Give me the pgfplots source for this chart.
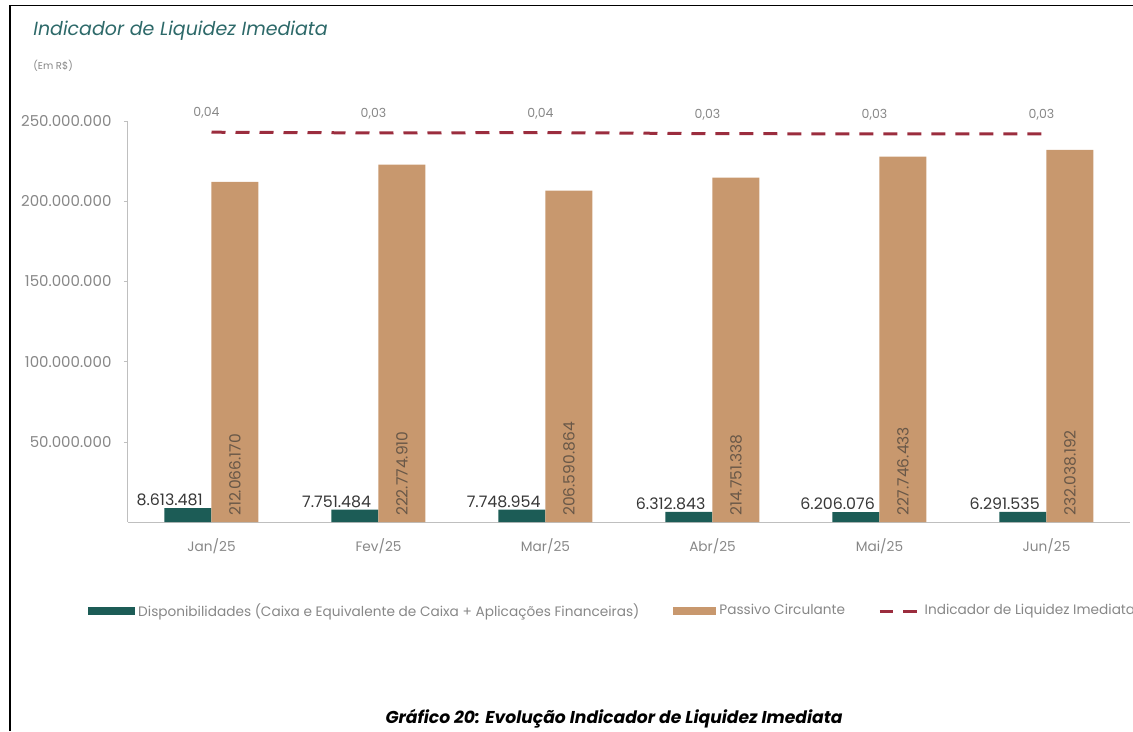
\documentclass[border=0pt]{standalone}
\usepackage{pgfplots}
\pgfplotsset{compat=1.18}
\usepackage{fontspec}
\setmainfont{Poppins}
\definecolor{teal1}{RGB}{28,92,86}
\definecolor{tan1}{RGB}{200,152,110}
\definecolor{line1}{RGB}{155,45,62}
\definecolor{gray1}{RGB}{135,135,135}
\definecolor{title1}{RGB}{45,105,105}
\definecolor{lbl}{RGB}{55,55,55}
\definecolor{lbltan}{RGB}{105,88,72}

\pgfplotstableread{
x disp passivo ind
0 8613481 212066170 0.0406
1 7751484 222774910 0.0348
2 7748954 206590864 0.0375
3 6312843 214751338 0.0294
4 6206076 227746433 0.0272
5 6291535 232038192 0.0271
}\data

\begin{document}
\begin{tikzpicture}[x=0.6pt,y=0.6pt]
\useasboundingbox (0,0) rectangle (1133,731);
\draw[black, line width=1.1pt] (10,0) -- (10,725.5) -- (1133,725.5);
\node[anchor=base west, text=title1, font=\fontsize{11.4}{14}\selectfont\itshape, inner sep=0pt] at (33,695) {Indicador de Liquidez Imediata};
\node[anchor=base west, text=gray1, font=\fontsize{6}{7}\selectfont, inner sep=0pt] at (33,661) {(Em R\$)};
\node[anchor=base, font=\fontsize{10.3}{12}\selectfont\bfseries\itshape, inner sep=0pt] at (614,8) {Gráfico 20: Evolução Indicador de Liquidez Imediata};

\begin{axis}[
  at={(76.8pt,125.4pt)}, anchor=south west, scale only axis,
  width=601.2pt, height=240.6pt,
  xmin=-0.5, xmax=5.5, ymin=0, ymax=250000000,
  ybar=0pt, bar width=28.2pt,
  xtick={0,...,5}, xticklabels={Jan/25,Fev/25,Mar/25,Abr/25,Mai/25,Jun/25},
  ytick={50000000,100000000,150000000,200000000,250000000},
  scaled y ticks=false,
  /pgf/number format/.cd, fixed, precision=0, 1000 sep={.}, assume math mode=true, /pgfplots/.cd,
  axis x line*=bottom, axis y line*=left,
  axis line style={draw=black!25, line width=0.6pt},
  x axis line style={-}, y axis line style={-},
  major x tick style={draw=none},
  major y tick style={draw=black!25},
  tick align=outside, major tick length=2.4pt,
  ticklabel style={text=gray1},
  xticklabel style={yshift=-4pt, font=\fontsize{8.2}{9}\selectfont},
  yticklabel style={xshift=-4pt, font=\fontsize{9}{10}\selectfont},
  legend style={at={(-0.045,-0.222)}, anchor=west, legend columns=3, draw=none, fill=none,
    font=\fontsize{8.2}{9}\selectfont, text=gray1,
    /tikz/every even column/.append style={column sep=18pt}},
  clip=false,
]
\addplot[fill=teal1, draw=none,
  legend image code/.code={\fill[teal1] (0pt,-2.4pt) rectangle (28pt,2.4pt);},
  nodes near coords,
  every node near coord/.append style={font=\fontsize{9.5}{11}\selectfont, text=lbl, anchor=south, xshift=-11pt, inner sep=1pt},
] table[x=x, y=disp] {\data};
\addlegendentry{Disponibilidades (Caixa e Equivalente de Caixa + Aplicações Financeiras)}
\addplot[fill=tan1, draw=none,
  legend image code/.code={\fill[tan1] (0pt,-2.4pt) rectangle (26pt,2.4pt);},
  visualization depends on={rawy \as \rawy},
  nodes near coords,
  every node near coord/.append style={font=\fontsize{9.3}{11}\selectfont, text=lbltan,
    shift={(axis direction cs:0,-\rawy)}, rotate=90, anchor=west, inner sep=3.5pt},
] table[x=x, y=passivo] {\data};
\addlegendentry{Passivo Circulante}
\addlegendimage{line1, line width=1.8pt, dash pattern=on 8.4pt off 6pt, legend image code/.code={\draw[line1, line width=1.8pt, dash pattern=on 8pt off 6pt] (0pt,0pt) -- (24pt,0pt);}}
\addlegendentry{Indicador de Liquidez Imediata}
\end{axis}

\begin{axis}[
  at={(76.8pt,125.4pt)}, anchor=south west, scale only axis,
  width=601.2pt, height=240.6pt,
  xmin=-0.5, xmax=5.5, ymin=-3, ymax=0.128,
  hide axis, clip=false,
]
\addplot[line1, line width=1.8pt, dash pattern=on 8.4pt off 6pt,
  nodes near coords={\pgfmathprintnumber[fixed, precision=2, zerofill, use comma, assume math mode=true]{\pgfplotspointmeta}},
  every node near coord/.append style={font=\fontsize{7.5}{8}\selectfont, text=gray1, anchor=south, yshift=4pt, xshift=-3pt},
] table[x=x, y=ind] {\data};
\end{axis}
\end{tikzpicture}
\end{document}
